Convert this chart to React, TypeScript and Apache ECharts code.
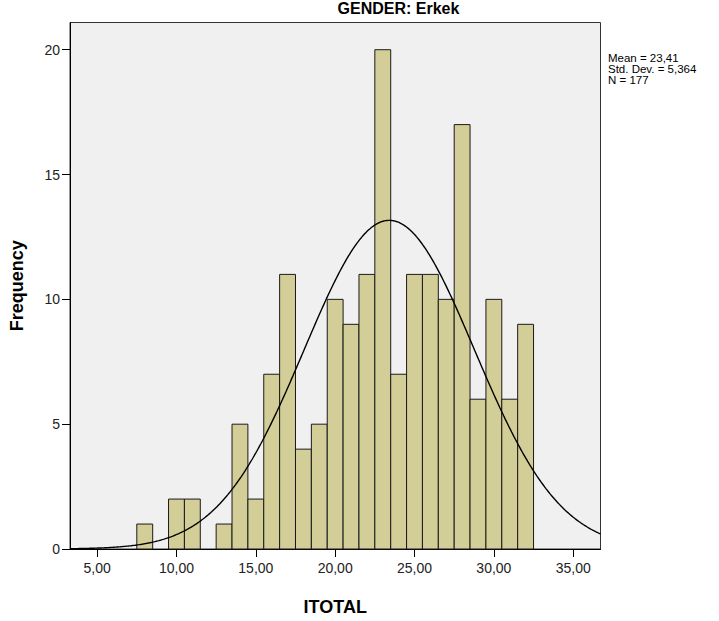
import React, { useEffect, useRef } from "react";
import * as echarts from "echarts";

// Histogram bins (bin centres, width 1) and their frequencies
const BIN_CENTERS = [8, 9, 10, 11, 12, 13, 14, 15, 16, 17, 18, 19, 20, 21, 22, 23, 24, 25, 26, 27, 28, 29, 30, 31, 32];
const FREQUENCIES = [1, 0, 2, 2, 0, 1, 5, 2, 7, 11, 4, 5, 10, 9, 11, 20, 7, 11, 11, 10, 17, 6, 10, 6, 9];

// Summary statistics shown on the chart
const MEAN = 23.41;
const STD_DEV = 5.364;
const N = 177;
const BIN_WIDTH = 1;

// Tick labels
const X_TICKS = [5, 10, 15, 20, 25, 30, 35];
const Y_TICKS = [0, 5, 10, 15, 20];

const X_MIN = 3.29;
const X_MAX = 36.72;
const Y_MAX = 21.09;

const FONT = "'Liberation Sans', Arial, sans-serif";

function normalCurve(): number[][] {
  const pts: number[][] = [];
  const steps = 400;
  for (let i = 0; i <= steps; i++) {
    const x = X_MIN + ((X_MAX - X_MIN) * i) / steps;
    const z = (x - MEAN) / STD_DEV;
    const y = (N * BIN_WIDTH * Math.exp(-0.5 * z * z)) / (STD_DEV * Math.sqrt(2 * Math.PI));
    pts.push([x, y]);
  }
  return pts;
}

const fmtComma = (v: number) => v.toFixed(2).replace(".", ",");

export default function App() {
  const ref = useRef<HTMLDivElement>(null);

  useEffect(() => {
    if (!ref.current) return;
    const chart = echarts.init(ref.current, undefined, { renderer: "svg" });
    const histData = BIN_CENTERS.map((c, i) => [c, FREQUENCIES[i]]).filter((d) => d[1] > 0);

    chart.setOption({
      animation: false,
      backgroundColor: "#ffffff",
      grid: {
        left: 68,
        right: 118.5,
        top: 22.5,
        bottom: 68,
        show: true,
        backgroundColor: "#f0f0f0",
        borderColor: "#333333",
        borderWidth: 1,
      },
      xAxis: {
        type: "value",
        min: X_MIN,
        max: X_MAX,
        name: "ITOTAL",
        nameLocation: "middle",
        nameGap: 49,
        nameTextStyle: { fontFamily: FONT, fontSize: 18, fontWeight: "bold", color: "#000" },
        splitLine: { show: false },
        axisLine: { show: true, onZero: false, lineStyle: { color: "#000", width: 1 } },
        axisTick: {
          show: true,
          inside: false,
          length: 8,
          customValues: X_TICKS,
          lineStyle: { color: "#000" },
        },
        axisLabel: {
          customValues: X_TICKS,
          formatter: (v: number) => fmtComma(v),
          fontFamily: FONT,
          fontSize: 14,
          color: "#222",
          margin: 12,
        },
      },
      yAxis: {
        type: "value",
        min: 0,
        max: Y_MAX,
        name: "Frequency",
        nameLocation: "middle",
        nameGap: 44,
        nameTextStyle: { fontFamily: FONT, fontSize: 18, fontWeight: "bold", color: "#000" },
        splitLine: { show: false },
        axisLine: { show: true, onZero: false, lineStyle: { color: "#000", width: 1 } },
        axisTick: {
          show: true,
          inside: false,
          length: 8,
          customValues: Y_TICKS,
          lineStyle: { color: "#000" },
        },
        axisLabel: {
          customValues: Y_TICKS,
          fontFamily: FONT,
          fontSize: 14,
          color: "#222",
          margin: 10,
        },
      },
      graphic: [
        {
          type: "text",
          x: 398.5,
          y: 8,
          style: {
            text: "GENDER: Erkek",
            fontFamily: FONT,
            fontSize: 16,
            fontWeight: "bold",
            fill: "#000",
            textAlign: "center",
            textVerticalAlign: "middle",
          },
        },
        {
          type: "text",
          x: 608,
          y: 52,
          style: {
            text: `Mean = ${MEAN.toFixed(2).replace(".", ",")}\nStd. Dev. = ${STD_DEV.toFixed(3).replace(".", ",")}\nN = ${N}`,
            fontFamily: FONT,
            fontSize: 11.5,
            lineHeight: 11,
            fill: "#000",
            textAlign: "left",
            textVerticalAlign: "top",
          },
        },
      ],
      series: [
        {
          type: "custom",
          data: histData,
          encode: { x: 0, y: 1 },
          renderItem: (params: any, api: any) => {
            const x = api.value(0);
            const y = api.value(1);
            const p1 = api.coord([x - BIN_WIDTH / 2, y]);
            const p2 = api.coord([x + BIN_WIDTH / 2, 0]);
            return {
              type: "rect",
              shape: { x: p1[0], y: p1[1], width: p2[0] - p1[0], height: p2[1] - p1[1] },
              style: { fill: "#d3ce97", stroke: "#1a1a1a", lineWidth: 1 },
            };
          },
          z: 2,
        },
        {
          type: "line",
          data: normalCurve(),
          showSymbol: false,
          smooth: false,
          clip: true,
          lineStyle: { color: "#000", width: 1.4 },
          z: 3,
        },
      ],
    });

    return () => chart.dispose();
  }, []);

  return (
    <div
      ref={ref}
      style={{ position: "fixed", left: 0, top: 0, width: 719, height: 621 }}
    />
  );
}
